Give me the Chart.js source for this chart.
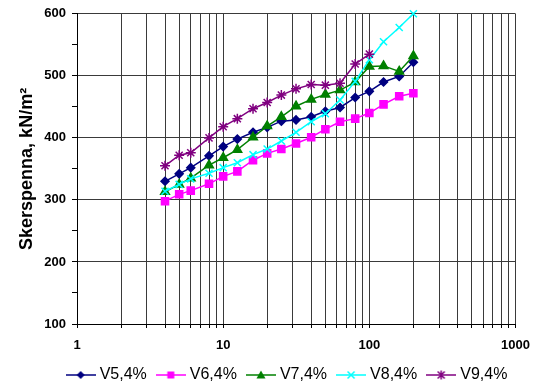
<!DOCTYPE html>
<html>
<head>
<meta charset="utf-8">
<style>
  html, body { margin: 0; padding: 0; background: #fff; }
  #wrap { width: 540px; height: 385px; }
</style>
<script src="https://cdn.jsdelivr.net/npm/chart.js@4/dist/chart.umd.min.js"></script>
</head>
<body>
<div id="wrap"><canvas id="c" width="540" height="385"></canvas></div>
<script>
// Shear test readings: time on a log axis, shear stress in kN/m2
const shearTimes = [4, 5, 6, 8, 10, 12.5, 16, 20, 25, 31.5, 40, 50, 63, 80, 100, 125, 160, 200];
const v5 = [330, 342, 352, 371, 386, 398, 409, 417, 427, 429, 434, 443, 449, 465, 475, 490, 499, 522];
const v6 = [298, 309, 315, 326, 338, 346, 364, 375, 382, 391, 401, 414, 426, 431, 440, 454, 467, 472];
const v7 = [313, 325, 335, 356, 368, 381, 401, 419, 434, 451, 462, 470, 477, 490, 515, 516, 507, 532];
const v8 = [314, 325, 334, 343, 352, 360, 373, 382, 395, 409, 426, 439, 461, 491, 526, 555, 578, 600];
const v9 = [355, 372, 376, 400, 418, 431, 447, 457, 469, 479, 486, 485, 488, 519, 535];
const seriesNames = ['V5,4%', 'V6,4%', 'V7,4%', 'V8,4%', 'V9,4%'];
const xTickLabels = [1, 10, 100, 1000];
const yTickLabels = [100, 200, 300, 400, 500, 600];
const yAxisTitle = 'Skerspenna, kN/m\u00B2';

const FONT = 'Arial, "Liberation Sans", Helvetica, sans-serif';

const styles = [
  { color: '#000080', marker: 'rectRot', radius: 4 },
  { color: '#FF00FF', marker: 'rect', radius: 5 },
  { color: '#008000', marker: 'triangle', radius: 5 },
  { color: '#00FFFF', marker: 'crossRot', radius: 5 },
  { color: '#800080', marker: 'star', radius: 5 }
];

// Small line-plus-marker swatch used as the legend symbol
function makeSwatch(color, marker) {
  const cv = document.createElement('canvas');
  cv.width = 30; cv.height = 14;
  const g = cv.getContext('2d');
  const cx = 15, cy = 7;
  g.strokeStyle = color; g.fillStyle = color; g.lineWidth = 1.5;
  g.beginPath(); g.moveTo(0, cy); g.lineTo(30, cy); g.stroke();
  g.beginPath();
  if (marker === 'rectRot') {
    g.moveTo(cx, cy - 4); g.lineTo(cx + 4, cy); g.lineTo(cx, cy + 4); g.lineTo(cx - 4, cy); g.closePath(); g.fill();
  } else if (marker === 'rect') {
    g.rect(cx - 3.5, cy - 3.5, 7, 7); g.fill();
  } else if (marker === 'triangle') {
    g.moveTo(cx, cy - 4.5); g.lineTo(cx + 4.5, cy + 3.5); g.lineTo(cx - 4.5, cy + 3.5); g.closePath(); g.fill();
  } else if (marker === 'crossRot') {
    g.moveTo(cx - 3.5, cy - 3.5); g.lineTo(cx + 3.5, cy + 3.5);
    g.moveTo(cx + 3.5, cy - 3.5); g.lineTo(cx - 3.5, cy + 3.5); g.stroke();
  } else if (marker === 'star') {
    g.moveTo(cx - 3.5, cy - 3.5); g.lineTo(cx + 3.5, cy + 3.5);
    g.moveTo(cx + 3.5, cy - 3.5); g.lineTo(cx - 3.5, cy + 3.5);
    g.moveTo(cx, cy - 4.5); g.lineTo(cx, cy + 4.5); g.stroke();
  }
  return cv;
}

const seriesValues = [v5, v6, v7, v8, v9];
const datasets = seriesValues.map((vals, i) => ({
  label: seriesNames[i],
  data: vals.map((y, k) => ({ x: shearTimes[k], y })),
  borderColor: styles[i].color,
  backgroundColor: styles[i].color,
  borderWidth: 1.5,
  pointStyle: styles[i].marker,
  pointRadius: styles[i].radius,
  pointHoverRadius: styles[i].radius,
  pointBorderWidth: 1.5,
  pointBackgroundColor: styles[i].color,
  pointBorderColor: styles[i].color,
  tension: 0,
  fill: false,
  clip: false,
  order: seriesValues.length - i,
  swatch: makeSwatch(styles[i].color, styles[i].marker)
}));

// Log-axis grid: every integer step inside each decade
function logGridTicks(min, max) {
  const out = [];
  for (let d = min; d < max; d *= 10) {
    for (let m = 1; m < 10; m++) out.push({ value: d * m });
  }
  out.push({ value: max });
  return out;
}

// Centre the legend row a little right of the canvas middle, under the plot
const legendCentre = {
  id: 'legendCentre',
  afterLayout(chart) {
    const lg = chart.legend;
    if (!lg) return;
    const shift = 288.5 - (lg.left + lg.right) / 2;
    lg.left += shift;
    lg.right += shift;
  }
};

Chart.defaults.color = '#000';
Chart.defaults.font.family = FONT;

new Chart(document.getElementById('c'), {
  type: 'line',
  data: { datasets },
  plugins: [legendCentre],
  options: {
    responsive: false,
    animation: false,
    devicePixelRatio: 1,
    layout: { padding: { left: 0, right: 24, top: 13, bottom: -8 } },
    plugins: {
      tooltip: { enabled: false },
      legend: {
        position: 'bottom',
        labels: {
          usePointStyle: true,
          pointStyleWidth: 22,
          padding: 13,
          color: '#000',
          font: { family: FONT, size: 16 },
          generateLabels: (chart) => chart.data.datasets.map((ds, i) => ({
            text: ds.label,
            pointStyle: ds.swatch,
            fillStyle: ds.backgroundColor,
            strokeStyle: ds.borderColor,
            lineWidth: 0,
            hidden: false,
            datasetIndex: i,
            fontColor: '#000'
          }))
        }
      }
    },
    scales: {
      x: {
        type: 'logarithmic',
        min: xTickLabels[0],
        max: xTickLabels[xTickLabels.length - 1],
        afterBuildTicks: (s) => { s.ticks = logGridTicks(s.min, s.max); },
        afterFit: (s) => {
          const lg = s.chart.legend;
          s.height = s.chart.height + 8 - 324 - (lg ? lg.height : 0);
        },
        grid: { color: '#3a3a3a', lineWidth: 1, tickLength: 4, tickColor: '#000' },
        border: { color: '#000', width: 1 },
        ticks: {
          autoSkip: false,
          maxRotation: 0,
          padding: 10,
          font: { family: FONT, size: 13, weight: 'bold' },
          callback: (v) => (xTickLabels.includes(v) ? String(v) : '')
        }
      },
      y: {
        min: yTickLabels[0],
        max: yTickLabels[yTickLabels.length - 1],
        afterFit: (s) => { s.width = 77; },
        grid: {
          color: (ctx) => (ctx.tick && yTickLabels.includes(ctx.tick.value) ? '#3a3a3a' : 'rgba(0,0,0,0)'),
          tickColor: '#000',
          tickLength: 5,
          lineWidth: 1
        },
        border: { color: '#000', width: 1 },
        ticks: {
          stepSize: 50,
          padding: 6,
          font: { family: FONT, size: 13, weight: 'bold' },
          callback: (v) => (yTickLabels.includes(v) ? String(v) : '')
        },
        title: {
          display: true,
          text: yAxisTitle,
          font: { family: FONT, size: 18, weight: 'bold' },
          padding: { top: 16, bottom: 0 }
        }
      }
    }
  }
});
</script>
</body>
</html>
